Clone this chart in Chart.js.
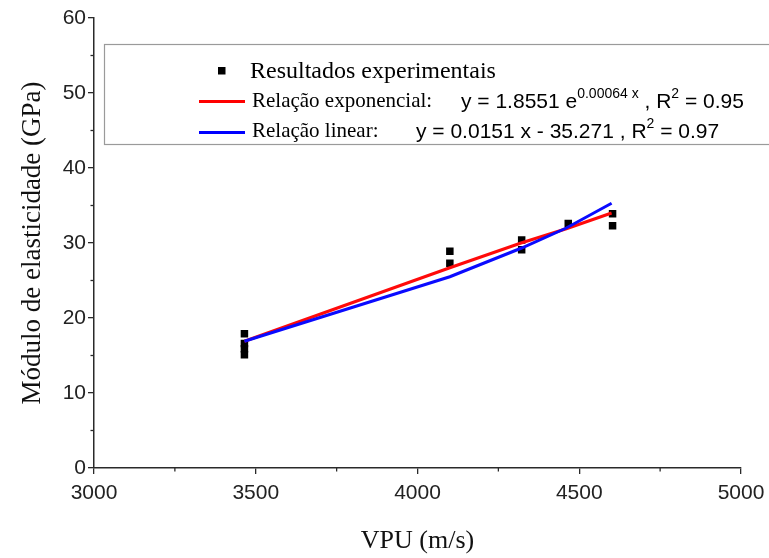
<!DOCTYPE html>
<html>
<head>
<meta charset="utf-8">
<script src="https://cdn.jsdelivr.net/npm/chart.js@4.4.0/dist/chart.umd.min.js"></script>
<style>
html,body{margin:0;padding:0;background:#fff;}
#wrap{width:769px;height:558px;position:relative;}
</style>
</head>
<body>
<div id="wrap"><canvas id="c" width="769" height="558"></canvas></div>
<script>
// ---- data ----
const pointsX = [3465, 3465, 3465, 3465, 4100, 4100, 4322, 4322, 4466, 4603, 4603];
const pointsY = [17.9, 16.6, 15.9, 15.1, 28.9, 27.3, 30.4, 29.1, 32.6, 33.9, 32.3];
const fitX = [3465, 4100, 4320, 4460, 4600];
const expY = [16.9, 26.7, 30.0, 31.9, 34.0];
const linY = [16.9, 25.5, 29.3, 32.0, 35.3];
const xTicks = [3000, 3500, 4000, 4500, 5000];
const yTicks = [0, 10, 20, 30, 40, 50, 60];
const legendLabels = ["Resultados experimentais", "Relação exponencial:", "Relação linear:"];
const expEq = ["y = 1.8551 e", "0.00064 x", " , R", "2", " = 0.95"];
const linEq = ["y = 0.0151 x - 35.271 , R", "2", " = 0.97"];
const xTitle = "VPU (m/s)";
const yTitle = "Módulo de elasticidade (GPa)";

const SERIF = "'Liberation Serif', 'Times New Roman', serif";
const SANS = "'Liberation Sans', Arial, sans-serif";
const AX = '#2a2a2a';

const minorTicks = {
  id: 'minorTicks',
  afterDraw(chart) {
    const ctx = chart.ctx;
    const xs = chart.scales.x, ys = chart.scales.y;
    const a = chart.chartArea;
    ctx.save();
    ctx.strokeStyle = AX;
    ctx.lineWidth = 1.3;
    for (let v = 3250; v < 5000; v += 500) {
      const px = xs.getPixelForValue(v);
      ctx.beginPath(); ctx.moveTo(px, a.bottom); ctx.lineTo(px, a.bottom + 3.5); ctx.stroke();
    }
    for (let v = 5; v < 60; v += 10) {
      const py = ys.getPixelForValue(v);
      ctx.beginPath(); ctx.moveTo(a.left, py); ctx.lineTo(a.left - 3.5, py); ctx.stroke();
    }
    ctx.restore();
  }
};

const legendBox = {
  id: 'legendBox',
  afterDraw(chart) {
    const ctx = chart.ctx;
    ctx.save();
    ctx.fillStyle = '#fff';
    ctx.fillRect(104.5, 44.5, 680, 100);
    ctx.strokeStyle = '#9a9a9a';
    ctx.lineWidth = 1.2;
    ctx.strokeRect(104.5, 44.5, 680, 100);
    ctx.textBaseline = 'middle';
    ctx.fillStyle = '#000';
    // entry 1: square marker
    ctx.fillRect(218, 67, 7.5, 7.5);
    ctx.font = "24px " + SERIF;
    ctx.fillText(legendLabels[0], 250, 72);
    // entry 2: red line
    ctx.strokeStyle = '#ff0000';
    ctx.lineWidth = 3;
    ctx.beginPath(); ctx.moveTo(199, 101.5); ctx.lineTo(245, 101.5); ctx.stroke();
    ctx.font = "21px " + SERIF;
    ctx.fillText(legendLabels[1], 252, 101);
    // equation
    let x = 461;
    const big = "21px " + SANS, small = "14px " + SANS;
    const parts2 = [[expEq[0], big, 0], [expEq[1], small, -8], [expEq[2], big, 0], [expEq[3], small, -8], [expEq[4], big, 0]];
    for (const [t, f, dy] of parts2) {
      ctx.font = f; ctx.fillText(t, x, 102 + dy); x += ctx.measureText(t).width;
    }
    // entry 3: blue line
    ctx.strokeStyle = '#0000ff';
    ctx.beginPath(); ctx.moveTo(199, 132.5); ctx.lineTo(245, 132.5); ctx.stroke();
    ctx.font = "21px " + SERIF;
    ctx.fillText(legendLabels[2], 252, 131);
    x = 416;
    const parts3 = [[linEq[0], big, 0], [linEq[1], small, -8], [linEq[2], big, 0]];
    for (const [t, f, dy] of parts3) {
      ctx.font = f; ctx.fillText(t, x, 132 + dy); x += ctx.measureText(t).width;
    }
    ctx.restore();
  }
};

const scatterData = pointsX.map((v, i) => ({x: v, y: pointsY[i]}));
const expData = fitX.map((v, i) => ({x: v, y: expY[i]}));
const linData = fitX.map((v, i) => ({x: v, y: linY[i]}));

new Chart(document.getElementById('c'), {
  type: 'scatter',
  data: {
    datasets: [
      {label: legendLabels[2], data: linData, showLine: true, borderColor: '#0a0aff', borderWidth: 3, pointRadius: 0, fill: false, order: 1},
      {label: legendLabels[1], data: expData, showLine: true, borderColor: '#ff0a0a', borderWidth: 3, pointRadius: 0, fill: false, order: 2},
      {label: legendLabels[0], data: scatterData, pointStyle: 'rect', pointRadius: 5.3, backgroundColor: '#000', borderColor: '#000', borderWidth: 0, order: 3}
    ]
  },
  options: {
    responsive: false,
    animation: false,
    devicePixelRatio: 1,
    layout: {padding: {top: 18, right: 28, left: 0, bottom: 0}},
    plugins: {legend: {display: false}, tooltip: {enabled: false}},
    scales: {
      x: {
        type: 'linear', min: 3000, max: 5000,
        afterBuildTicks(s) { s.ticks = xTicks.map(v => ({value: v})); },
        afterFit(s) { s.height = 90; s.paddingRight = 20; s.paddingLeft = 20; },
        ticks: {font: {family: SANS, size: 21}, color: '#222', padding: 7, callback: v => String(v)},
        grid: {drawOnChartArea: false, drawTicks: true, tickLength: 6, color: AX, lineWidth: 1.3},
        border: {display: true, color: AX, width: 1.5},
        title: {display: true, text: xTitle, font: {family: SERIF, size: 26}, color: '#111', padding: {top: 0, bottom: 1}}
      },
      y: {
        type: 'linear', min: 0, max: 60,
        afterBuildTicks(s) { s.ticks = yTicks.map(v => ({value: v})); },
        afterFit(s) { s.width = 94; },
        ticks: {font: {family: SANS, size: 21}, color: '#222', padding: 2, callback: v => String(v)},
        grid: {drawOnChartArea: false, drawTicks: true, tickLength: 6, color: AX, lineWidth: 1.3},
        border: {display: true, color: AX, width: 1.5},
        title: {display: true, text: yTitle, font: {family: SERIF, size: 27}, color: '#111', padding: {top: 17, bottom: 0}}
      }
    }
  },
  plugins: [minorTicks, legendBox]
});
</script>
</body>
</html>
